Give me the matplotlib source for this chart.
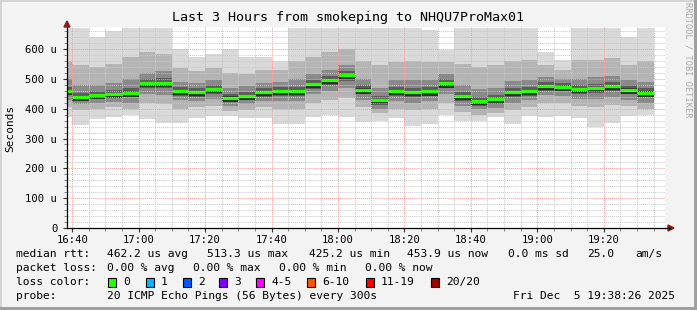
import numpy as np
import matplotlib
matplotlib.use("Agg")
import matplotlib.pyplot as plt
from matplotlib.patches import Rectangle, Polygon
from matplotlib.lines import Line2D
from matplotlib.ticker import MultipleLocator, FuncFormatter

# 5 minute steps, first one starts at 16:35 (minutes of day)
first_step = 16 * 60 + 35
n_steps = 36

# smoke percentiles per step (microseconds)
rtt_min = [372, 345, 365, 372, 380, 365, 353, 353, 370, 375, 375, 368, 370, 349, 349, 372, 378, 372,
           356, 358, 370, 343, 349, 380, 358, 358, 372, 349, 375, 372, 375, 370, 339, 353, 375, 378]
rtt_p10 = [405, 395, 400, 405, 400, 420, 415, 400, 405, 410, 392, 395, 405, 400, 400, 420, 430, 435,
           405, 385, 400, 395, 400, 420, 390, 380, 385, 395, 405, 420, 418, 408, 405, 412, 408, 398]
rtt_p25 = [430, 415, 420, 422, 420, 450, 445, 428, 425, 432, 410, 415, 425, 425, 425, 450, 460, 470,
           430, 400, 425, 420, 425, 450, 410, 398, 402, 420, 428, 445, 442, 432, 432, 440, 430, 420]
rtt_p40 = [445, 425, 432, 436, 438, 470, 468, 444, 440, 450, 422, 428, 440, 443, 444, 466, 480, 494,
           448, 414, 442, 438, 442, 468, 426, 410, 416, 438, 444, 461, 458, 450, 452, 458, 448, 438]
rtt_median = [460, 440, 446, 450, 454, 486, 487, 460, 455, 466, 437, 443, 456, 459, 460, 482, 497, 513,
              464, 429, 459, 455, 458, 485, 443, 425, 433, 455, 460, 477, 474, 466, 469, 476, 464, 454]
rtt_p60 = [474, 454, 458, 464, 468, 500, 502, 474, 468, 480, 450, 457, 470, 472, 474, 496, 510, 527,
           478, 444, 472, 469, 472, 499, 457, 440, 447, 469, 474, 490, 487, 480, 483, 490, 478, 468]
rtt_p75 = [500, 480, 478, 485, 500, 520, 525, 490, 485, 495, 470, 475, 485, 488, 500, 515, 530, 545,
           500, 470, 495, 495, 495, 515, 480, 465, 470, 492, 495, 505, 500, 500, 505, 510, 495, 490]
rtt_p90 = [560, 545, 540, 550, 575, 590, 585, 535, 525, 535, 520, 515, 530, 530, 560, 575, 590, 600,
           560, 545, 555, 560, 555, 555, 550, 540, 545, 560, 565, 545, 530, 565, 565, 570, 545, 560]
rtt_max = [672, 672, 641, 660, 672, 672, 672, 601, 575, 584, 599, 573, 573, 559, 672, 672, 672, 672,
           672, 672, 672, 672, 665, 597, 672, 672, 672, 672, 672, 590, 563, 672, 672, 672, 639, 672]

loss_labels = ["0", "1", "2", "3", "4-5", "6-10", "11-19", "20/20"]
loss_colors = ["#26ff00", "#00b8ff", "#0059ff", "#7e00ff", "#ff00ff", "#ff5500", "#ff0000", "#a00000"]

W, H = 697, 310
BG = "#f3f3f3"
MONO = "DejaVu Sans Mono"

fig = plt.figure(figsize=(W / 100, H / 100), dpi=100, facecolor=BG)


def fx(x):
    return x / W


def fy(y):
    return 1 - y / H


ax = fig.add_axes([fx(67), fy(228), fx(665) - fx(67), fy(27) - fy(228)])
ax.set_facecolor("white")

t_end = 19 * 60 + 38 + 26 / 60
ax.set_xlim(t_end - 180, t_end)
ax.set_ylim(0, 674)

starts = first_step + 5 * np.arange(n_steps)
layers = [
    (rtt_min, rtt_max, "#d9d9d9"),
    (rtt_p10, rtt_p90, "#b4b4b4"),
    (rtt_p25, rtt_p75, "#8a8a8a"),
    (rtt_p40, rtt_p60, "#5c5c5c"),
]
for bottom, top, col in layers:
    b = np.array(bottom)
    t = np.array(top)
    ax.bar(starts, t - b, bottom=b, width=5, align="edge", color=col, linewidth=0, zorder=1)

# dark core just around the median
med = np.array(rtt_median)
ax.bar(starts, 18, bottom=med - 14, width=5, align="edge", color="#2e2e2e", linewidth=0, zorder=1)

# connectors and median lines
for k in range(1, n_steps):
    ax.plot([starts[k], starts[k]], [rtt_median[k - 1], rtt_median[k]], color="#222222",
            lw=0.6, ls=(0, (1, 1)), zorder=3)
ax.hlines(rtt_median, starts, starts + 5, color="#26ff00", lw=2.3, zorder=4)

# grid (rrdtool style, drawn over the data)
for m in np.arange(995, t_end, 5):
    if m < t_end - 180:
        continue
    major = (m % 20) == 0
    ax.axvline(m, color="#ff9a9a" if major else "#c8c8c8", lw=0.7, ls=(0, (1, 1)), zorder=5)
for v in range(20, 674, 20):
    major = v % 100 == 0
    ax.axhline(v, color="#ff9a9a" if major else "#c8c8c8", lw=0.7, ls=(0, (1, 1)), zorder=5)

ax.xaxis.set_major_locator(MultipleLocator(20))
ax.xaxis.set_minor_locator(MultipleLocator(5))
ax.yaxis.set_major_locator(MultipleLocator(100))
ax.yaxis.set_minor_locator(MultipleLocator(20))
ax.xaxis.set_major_formatter(FuncFormatter(lambda m, p: "%02d:%02d" % (int(m) // 60, int(m) % 60)))
ax.yaxis.set_major_formatter(FuncFormatter(lambda v, p: "0" if v == 0 else "%d u" % v))
ax.tick_params(which="major", length=3, width=0.8, color="#333333", labelsize=7.6, pad=2)
ax.tick_params(which="minor", length=2, width=0.6, color="#777777")
ax.tick_params(axis="y", pad=4)
for lab in ax.get_xticklabels() + ax.get_yticklabels():
    lab.set_fontfamily(MONO)

for s in ["top", "right"]:
    ax.spines[s].set_visible(False)
for s in ["left", "bottom"]:
    ax.spines[s].set_color("black")
    ax.spines[s].set_linewidth(0.9)
    ax.spines[s].set_zorder(6)

# axis arrows
fig.add_artist(Line2D([fx(665), fx(670)], [fy(228), fy(228)], color="black", lw=0.9))
fig.add_artist(Polygon([(fx(668), fy(225)), (fx(668), fy(231)), (fx(674), fy(228))],
                       closed=True, color="#8b1a1a"))
fig.add_artist(Polygon([(fx(64), fy(27)), (fx(70), fy(27)), (fx(67), fy(21))],
                       closed=True, color="#8b1a1a"))

# frame
fig.add_artist(Rectangle((0, 0), 1, fy(307), transform=fig.transFigure, color="#a0a0a0", lw=0))
fig.add_artist(Rectangle((fx(694), 0), 1, 1, transform=fig.transFigure, color="#a0a0a0", lw=0))
fig.add_artist(Rectangle((0, fy(2)), 1, 1, transform=fig.transFigure, color="#d4d4d4", lw=0, zorder=-1))
fig.add_artist(Rectangle((0, 0), fx(2), 1, transform=fig.transFigure, color="#d4d4d4", lw=0, zorder=-1))

fig.text(fx(348), fy(18), "Last 3 Hours from smokeping to NHQU7ProMax01", ha="center", va="center",
         family=MONO, fontsize=9.6, color="#000000")
fig.text(fx(10), fy(128), "Seconds", rotation=90, ha="center", va="center", family=MONO, fontsize=8)
fig.text(fx(688), fy(60), "RRDTOOL / TOBI OETIKER", rotation=270, ha="center", va="center",
         family=MONO, fontsize=6.2, color="#a8a8a8")

fs = 8.1


def put(x, y, s):
    fig.text(fx(x), fy(y), s, ha="left", va="center", family=MONO, fontsize=fs, color="black")


put(16, 254, "median rtt:")
put(107, 254, "%.1f us avg" % 462.2)
put(207, 254, "%.1f us max" % 513.3)
put(309, 254, "%.1f us min" % 425.2)
put(407, 254, "%.1f us now" % 453.9)
put(508, 254, "0.0 ms sd")
put(587, 254, "25.0")
put(635, 254, "am/s")

put(16, 268, "packet loss:")
put(107, 268, "0.00 % avg")
put(193, 268, "0.00 % max")
put(279, 268, "0.00 % min")
put(365, 268, "0.00 % now")

put(16, 282, "loss color:")
box_x = [108, 146, 183, 219, 256, 307, 366, 431]
for bx, lab, col in zip(box_x, loss_labels, loss_colors):
    fig.add_artist(Rectangle((fx(bx), fy(286.5)), 8 / W, 9 / H, transform=fig.transFigure,
                             facecolor=col, edgecolor="black", lw=0.8))
    put(bx + 15, 282, lab)

put(16, 296, "probe:")
put(107, 296, "20 ICMP Echo Pings (56 Bytes) every 300s")
put(513, 296, "Fri Dec  5 19:38:26 2025")

fig.savefig("out.png", dpi=100, facecolor=BG)
